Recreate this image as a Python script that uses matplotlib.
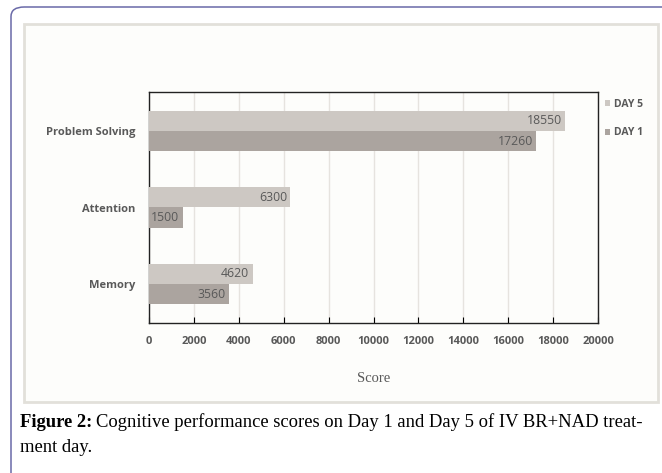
import matplotlib
matplotlib.use("Agg")
import matplotlib.pyplot as plt
from matplotlib.patches import FancyBboxPatch, Rectangle
import numpy as np

categories = ["Memory", "Attention", "Problem Solving"]
day5 = [4620, 6300, 18550]
day1 = [3560, 1500, 17260]
xticks = list(range(0, 20001, 2000))

W, H = 662, 473
fig = plt.figure(figsize=(W / 100, H / 100), dpi=100)
fig.patch.set_facecolor("white")

def fx(x):
    return x / W

def fy(y):
    return 1 - y / H

# outer rounded border (extends past right and bottom edges)
outer = FancyBboxPatch((fx(11), fy(485)), fx(720) - fx(11), fy(7) - fy(485),
                       boxstyle="round,pad=0,rounding_size=0.02",
                       transform=fig.transFigure, facecolor="white",
                       edgecolor="#6a6aa8", linewidth=1.1, zorder=0)
fig.patches.append(outer)
# inner chart panel
inner = Rectangle((fx(24), fy(402)), fx(658) - fx(24), fy(24) - fy(402),
                  transform=fig.transFigure, facecolor="#fdfdfb",
                  edgecolor="#e2e0da", linewidth=2.0, zorder=1)
fig.patches.append(inner)

ax = fig.add_axes([fx(149), fy(323), fx(598) - fx(149), fy(92) - fy(323)])
ax.set_facecolor("#fdfdfb")
ax.set_zorder(2)

y = np.arange(len(categories))
h = 0.262
c5 = "#cdc8c3"
c1 = "#aba49f"
b5 = ax.barh(y + h / 2, day5, height=h, color=c5, label="DAY 5", zorder=3)
b1 = ax.barh(y - h / 2, day1, height=h, color=c1, label="DAY 1", zorder=3)

for bars, vals in ((b5, day5), (b1, day1)):
    for bar, v in zip(bars, vals):
        ax.text(v - 150, bar.get_y() + bar.get_height() / 2, f"{v}",
                ha="right", va="center", fontsize=8.8, color="#595959",
                family="Open Sans", zorder=4)

ax.set_xlim(0, 20000)
ax.set_ylim(-0.51, 2.51)
ax.set_xticks(xticks)
ax.set_xticklabels([str(t) for t in xticks], fontsize=8, color="#595959",
                   family="Open Sans", fontweight="bold")
ax.set_yticks(y)
ax.set_yticklabels(categories, fontsize=8, color="#595959", family="Open Sans",
                   fontweight="bold")
ax.tick_params(axis="y", length=0, pad=10)
ax.tick_params(axis="x", length=4, direction="in", pad=9, color="black", width=0.8)
ax.xaxis.grid(True, color="#e6e3df", linewidth=1.0, zorder=0)
ax.set_axisbelow(True)
for s in ax.spines.values():
    s.set_color("#222222")
    s.set_linewidth(1.0)

ax.set_xlabel("Score", fontsize=10.5, color="#595959", family="Liberation Serif",
              labelpad=18)

handles = [b5, b1]
leg = ax.legend(handles, ["DAY 5", "DAY 1"], loc="upper left",
                bbox_to_anchor=(1.0, 1.0), frameon=False,
                handlelength=0.55, handleheight=0.55, handletextpad=0.35,
                labelspacing=1.7, borderaxespad=0.25,
                prop={"family": "Open Sans", "size": 7.5, "weight": "bold"})
for t in leg.get_texts():
    t.set_color("#595959")

fs = 13.4
t1 = fig.text(fx(20), fy(422), "Figure 2:", fontsize=fs, va="center", ha="left",
              family="Liberation Serif", fontweight="bold")
fig.canvas.draw()
bb = t1.get_window_extent()
x_end = bb.x1 / fig.dpi / fig.get_figwidth()
fig.text(x_end + 0.006, fy(422),
         "Cognitive performance scores on Day 1 and Day 5 of IV BR+NAD treat-",
         fontsize=fs, va="center", ha="left", family="Liberation Serif")
fig.text(fx(20), fy(447), "ment day.", fontsize=fs, va="center", ha="left",
         family="Liberation Serif")

fig.savefig("out.png", dpi=100)
